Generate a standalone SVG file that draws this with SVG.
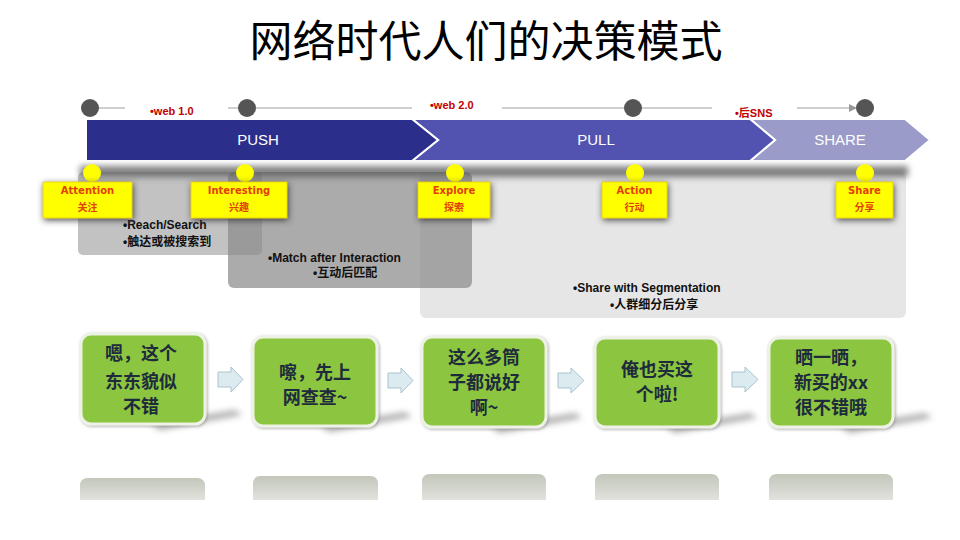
<svg xmlns="http://www.w3.org/2000/svg" width="960" height="540" viewBox="0 0 960 540">
<defs>
<style>
.title{font-family:"Noto Sans CJK SC","Liberation Serif",serif;font-size:43px;fill:#000}
.era{font-family:"Liberation Sans","Noto Sans CJK SC",sans-serif;font-size:11px;font-weight:bold;fill:#c00000}
.band{font-family:"Liberation Sans",Arial,sans-serif;font-size:15px;fill:#fff;text-anchor:middle}
.tl{stroke:#cfcfcf;stroke-width:2;fill:none}
.dot{fill:#555}
.ylab{font-family:"DejaVu Sans","Noto Sans CJK SC",sans-serif;font-size:10px;font-weight:bold;fill:#e2400a;text-anchor:middle}
.ycn{font-family:"Noto Sans CJK SC",sans-serif;font-size:10px;font-weight:bold;fill:#e2400a;text-anchor:middle}
.ybox{fill:#ffff00;stroke:#e8c800;stroke-width:0.8}
.ycirc{fill:#ffff00}
.ptxt{font-family:"Liberation Sans","Noto Sans CJK SC",sans-serif;font-size:12px;font-weight:bold;fill:#111}
.gbox{fill:#8cc63f;stroke:#eef2e6;stroke-width:3}
.gtxt{font-family:"Noto Sans CJK SC",sans-serif;font-size:18px;font-weight:bold;fill:#1e2b3c;text-anchor:middle}
.barrow{fill:#dcebf0;stroke:#a9c3cf;stroke-width:1}
.refl{fill:url(#reflg)}
</style>
<filter id="ysh" x="-30%" y="-30%" width="160%" height="160%">
<feGaussianBlur in="SourceAlpha" stdDeviation="3"/>
<feOffset dx="1" dy="2" result="b"/>
<feFlood flood-color="#333" flood-opacity="0.85"/>
<feComposite in2="b" operator="in"/>
<feMerge><feMergeNode/><feMergeNode in="SourceGraphic"/></feMerge>
</filter>
<filter id="blur3" x="-20%" y="-100%" width="140%" height="300%"><feGaussianBlur stdDeviation="3"/></filter>
<filter id="gsh" x="-20%" y="-20%" width="140%" height="140%">
<feGaussianBlur in="SourceAlpha" stdDeviation="1.5"/>
<feOffset dx="1" dy="1" result="b"/>
<feFlood flood-color="#777" flood-opacity="0.6"/>
<feComposite in2="b" operator="in"/>
<feMerge><feMergeNode/><feMergeNode in="SourceGraphic"/></feMerge>
</filter>
<linearGradient id="reflg" x1="0" y1="0" x2="0" y2="1">
<stop offset="0" stop-color="#c2c7ba"/>
<stop offset="1" stop-color="#e2e2de"/>
</linearGradient>
</defs>

<rect width="960" height="540" fill="#fff"/>

<g id="title">
<text class="title" x="486" y="57" text-anchor="middle">网络时代人们的决策模式</text>
</g>

<g id="connectors">
<line class="tl" x1="90" y1="108" x2="125" y2="108"/>
<line class="tl" x1="228" y1="108" x2="412" y2="108"/>
<line class="tl" x1="502" y1="108" x2="712" y2="108"/>
<line class="tl" x1="797" y1="108" x2="850" y2="108"/>
<polygon points="849,104 857,108 849,112" fill="#999"/>
<polygon class="barrow" points="218,372 231,372 231,367 243,379.5 231,392 231,387 218,387"/>
<polygon class="barrow" points="388,373 401,373 401,368 413,380.5 401,393 401,388 388,388"/>
<polygon class="barrow" points="558,373 571,373 571,368 584,380.5 571,393 571,388 558,388"/>
<polygon class="barrow" points="732,372 745,372 745,367 758,379.5 745,392 745,387 732,387"/>
</g>

<g id="timeline-dots">
<circle class="dot" cx="90" cy="108" r="9"/>
<circle class="dot" cx="247" cy="108" r="9"/>
<circle class="dot" cx="633" cy="108" r="9"/>
<circle class="dot" cx="865" cy="108" r="9"/>
<text class="era" x="150" y="115">•web 1.0</text>
<text class="era" x="430" y="109">•web 2.0</text>
<text class="era" x="735" y="117">•后SNS</text>
</g>

<g id="band-share">
<polygon points="750,119 905,119 930,140 905,161 750,161 775,140" fill="#9a9bc9" stroke="#fff" stroke-width="2"/>
<text class="band" x="840" y="145">SHARE</text>
</g>
<g id="band-pull">
<polygon points="412,119 750,119 775,140 750,161 412,161 438,140" fill="#5253b0" stroke="#fff" stroke-width="2"/>
<text class="band" x="596" y="145">PULL</text>
</g>
<g id="band-push">
<polygon points="86,119 412,119 438,140 412,161 86,161" fill="#2c2e8c" stroke="#fff" stroke-width="2"/>
<text class="band" x="258" y="145">PUSH</text>
</g>

<g id="panel-share">
<rect x="420" y="172" width="486" height="146" rx="6" fill="#e6e6e6"/>
<text class="ptxt" x="573" y="292">•Share with Segmentation</text>
<text class="ptxt" x="610" y="309">•人群细分后分享</text>
</g>
<g id="panel-reach">
<rect x="78" y="172" width="184" height="83" rx="5" fill="#c2c2c2"/>
<text class="ptxt" x="123" y="229">•Reach/Search</text>
<text class="ptxt" x="123" y="246">•触达或被搜索到</text>
</g>
<g id="panel-match">
<rect x="228" y="172" width="244" height="116" rx="6" fill="#8a8a8a" fill-opacity="0.72"/>
<text class="ptxt" x="268" y="262">•Match after Interaction</text>
<text class="ptxt" x="313" y="277">•互动后匹配</text>
</g>

<g id="band-shadow">
<rect x="80" y="166" width="828" height="11" fill="#555" opacity="0.75" filter="url(#blur3)"/>
</g>

<g id="stage-attention">
<circle class="ycirc" cx="92" cy="173" r="9"/>
<rect class="ybox" x="43" y="182" width="89" height="36" filter="url(#ysh)"/>
<text class="ylab" x="87.5" y="194">Attention</text>
<text class="ycn" x="87.5" y="211">关注</text>
</g>
<g id="stage-interesting">
<circle class="ycirc" cx="245" cy="173" r="9"/>
<rect class="ybox" x="191" y="182" width="96" height="36" filter="url(#ysh)"/>
<text class="ylab" x="239" y="194">Interesting</text>
<text class="ycn" x="239" y="211">兴趣</text>
</g>
<g id="stage-explore">
<circle class="ycirc" cx="455" cy="173" r="9"/>
<rect class="ybox" x="418" y="182" width="72" height="36" filter="url(#ysh)"/>
<text class="ylab" x="454" y="194">Explore</text>
<text class="ycn" x="454" y="211">探索</text>
</g>
<g id="stage-action">
<circle class="ycirc" cx="635" cy="173" r="9"/>
<rect class="ybox" x="602" y="182" width="65" height="36" filter="url(#ysh)"/>
<text class="ylab" x="634.5" y="194">Action</text>
<text class="ycn" x="634.5" y="211">行动</text>
</g>
<g id="stage-share">
<circle class="ycirc" cx="865" cy="173" r="9"/>
<rect class="ybox" x="836" y="182" width="57" height="36" filter="url(#ysh)"/>
<text class="ylab" x="864.5" y="194">Share</text>
<text class="ycn" x="864.5" y="211">分享</text>
</g>

<g id="shadows" filter="url(#blur3)" fill="#9a9a9a" opacity="0.8">
<polygon points="150,424 235,410 242,415 160,430"/>
<polygon points="320,426 405,412 412,417 330,432"/>
<polygon points="490,427 575,413 582,418 500,433"/>
<polygon points="665,427 750,413 757,418 675,433"/>
<polygon points="840,427 925,413 932,418 850,433"/>
</g>

<g id="box1">
<rect class="gbox" x="81" y="334" width="124" height="90" rx="10" filter="url(#gsh)"/>
<text class="gtxt" x="141" y="360">嗯，这个</text>
<text class="gtxt" x="141" y="388">东东貌似</text>
<text class="gtxt" x="141" y="413">不错</text>
</g>
<g id="box2">
<rect class="gbox" x="253" y="337" width="124" height="89" rx="10" filter="url(#gsh)"/>
<text class="gtxt" x="315" y="379">嚓，先上</text>
<text class="gtxt" x="315" y="404">网查查~</text>
</g>
<g id="box3">
<rect class="gbox" x="422" y="337" width="124" height="90" rx="10" filter="url(#gsh)"/>
<text class="gtxt" x="484" y="364">这么多筒</text>
<text class="gtxt" x="484" y="389">子都说好</text>
<text class="gtxt" x="484" y="414">啊~</text>
</g>
<g id="box4">
<rect class="gbox" x="595" y="338" width="124" height="89" rx="10" filter="url(#gsh)"/>
<text class="gtxt" x="657" y="376">俺也买这</text>
<text class="gtxt" x="657" y="401">个啦!</text>
</g>
<g id="box5">
<rect class="gbox" x="769" y="338" width="124" height="89" rx="10" filter="url(#gsh)"/>
<text class="gtxt" x="831" y="364">晒一晒，</text>
<text class="gtxt" x="831" y="389">新买的xx</text>
<text class="gtxt" x="831" y="414">很不错哦</text>
</g>

<g id="reflections">
<path class="refl" d="M80,500 V486 Q80,478 88,478 H197 Q205,478 205,486 V500 Z"/>
<path class="refl" d="M253,500 V484 Q253,476 261,476 H370 Q378,476 378,484 V500 Z"/>
<path class="refl" d="M422,500 V482 Q422,474 430,474 H538 Q546,474 546,482 V500 Z"/>
<path class="refl" d="M595,500 V482 Q595,474 603,474 H711 Q719,474 719,482 V500 Z"/>
<path class="refl" d="M769,500 V482 Q769,474 777,474 H885 Q893,474 893,482 V500 Z"/>
</g>
</svg>
